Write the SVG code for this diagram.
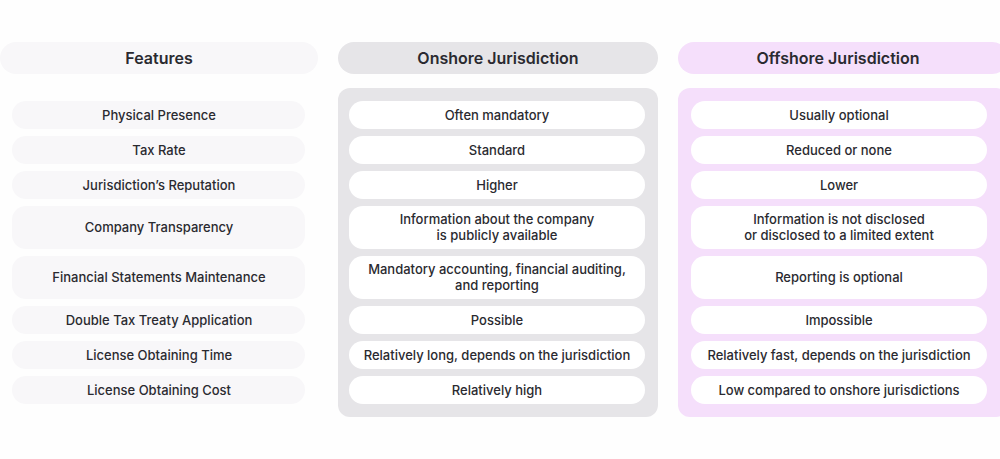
<svg xmlns="http://www.w3.org/2000/svg" width="1000" height="459" viewBox="0 0 1000 459">
<style>
text{font-family:Inter,"Liberation Sans",sans-serif;font-size:13px;font-weight:500;fill:#2a2a30;text-anchor:middle}
.h{font-size:16px;font-weight:600}
.f{fill:#f8f7f9}
.c{fill:#fff}
</style>
<rect width="1000" height="459" fill="#fefefe"/>
<g id="headers">
<rect x="0" y="42" width="318" height="32" rx="16" fill="#f8f7f9"/>
<text class="h" x="159" y="64">Features</text>
<rect x="338" y="42" width="320" height="32" rx="16" fill="#e6e5e8"/>
<text class="h" x="498" y="64">Onshore Jurisdiction</text>
<rect x="678" y="42" width="330" height="32" rx="16" fill="#f5dffb"/>
<text class="h" x="838" y="64">Offshore Jurisdiction</text>
</g>
<g id="panels">
<rect x="338" y="88" width="320" height="329" rx="12" fill="#e6e5e8"/>
<rect x="678" y="88" width="330" height="329" rx="12" fill="#f5dffb"/>
</g>
<g id="features">
<rect class="f" x="12" y="101" width="293" height="28" rx="14"/><text x="159" y="119.5">Physical Presence</text>
<rect class="f" x="12" y="136" width="293" height="28" rx="14"/><text x="159" y="154.5">Tax Rate</text>
<rect class="f" x="12" y="171" width="293" height="28" rx="14"/><text x="159" y="189.5">Jurisdiction’s Reputation</text>
<rect class="f" x="12" y="206" width="293" height="43" rx="14"/><text x="159" y="232">Company Transparency</text>
<rect class="f" x="12" y="256" width="293" height="43" rx="14"/><text x="159" y="282">Financial Statements Maintenance</text>
<rect class="f" x="12" y="306" width="293" height="28" rx="14"/><text x="159" y="324.5">Double Tax Treaty Application</text>
<rect class="f" x="12" y="341" width="293" height="28" rx="14"/><text x="159" y="359.5">License Obtaining Time</text>
<rect class="f" x="12" y="376" width="293" height="28" rx="14"/><text x="159" y="394.5">License Obtaining Cost</text>
</g>
<g id="onshore">
<rect class="c" x="349" y="101" width="296" height="28" rx="14"/><text x="497" y="119.5">Often mandatory</text>
<rect class="c" x="349" y="136" width="296" height="28" rx="14"/><text x="497" y="154.5">Standard</text>
<rect class="c" x="349" y="171" width="296" height="28" rx="14"/><text x="497" y="189.5">Higher</text>
<rect class="c" x="349" y="206" width="296" height="43" rx="14"/><text x="497" y="224">Information about the company</text><text x="497" y="240">is publicly available</text>
<rect class="c" x="349" y="256" width="296" height="43" rx="14"/><text x="497" y="274">Mandatory accounting, financial auditing,</text><text x="497" y="290">and reporting</text>
<rect class="c" x="349" y="306" width="296" height="28" rx="14"/><text x="497" y="324.5">Possible</text>
<rect class="c" x="349" y="341" width="296" height="28" rx="14"/><text x="497" y="359.5">Relatively long, depends on the jurisdiction</text>
<rect class="c" x="349" y="376" width="296" height="28" rx="14"/><text x="497" y="394.5">Relatively high</text>
</g>
<g id="offshore">
<rect class="c" x="691" y="101" width="296" height="28" rx="14"/><text x="839" y="119.5">Usually optional</text>
<rect class="c" x="691" y="136" width="296" height="28" rx="14"/><text x="839" y="154.5">Reduced or none</text>
<rect class="c" x="691" y="171" width="296" height="28" rx="14"/><text x="839" y="189.5">Lower</text>
<rect class="c" x="691" y="206" width="296" height="43" rx="14"/><text x="839" y="224">Information is not disclosed</text><text x="839" y="240">or disclosed to a limited extent</text>
<rect class="c" x="691" y="256" width="296" height="43" rx="14"/><text x="839" y="282">Reporting is optional</text>
<rect class="c" x="691" y="306" width="296" height="28" rx="14"/><text x="839" y="324.5">Impossible</text>
<rect class="c" x="691" y="341" width="296" height="28" rx="14"/><text x="839" y="359.5">Relatively fast, depends on the jurisdiction</text>
<rect class="c" x="691" y="376" width="296" height="28" rx="14"/><text x="839" y="394.5">Low compared to onshore jurisdictions</text>
</g>
<g id="connectors"/>
</svg>
